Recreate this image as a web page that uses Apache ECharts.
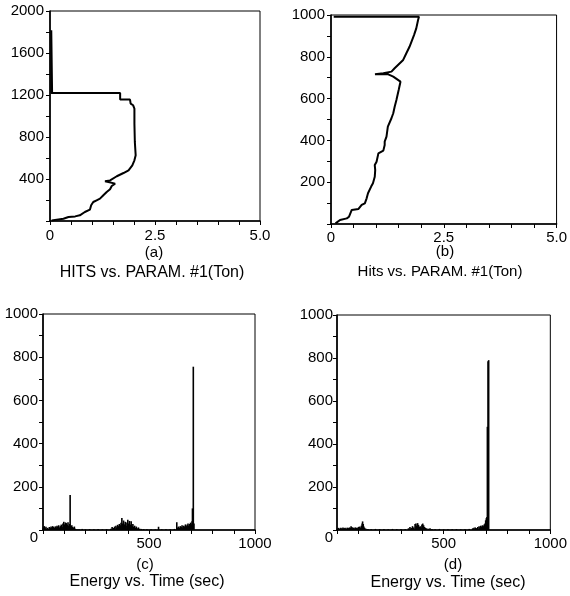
<!DOCTYPE html>
<html><head><meta charset="utf-8">
<script src="https://cdn.jsdelivr.net/npm/echarts@6/dist/echarts.min.js"></script>
<style>html,body{margin:0;padding:0;background:#fff}#c{width:570px;height:596px}</style>
</head><body><div id="c"></div>
<script>
// (a) HITS vs PARAM #1 (Ton): [param, hits]
const hitsA = [[0.04,5],[0.16,13],[0.32,22],[0.44,38],[0.6,44],[0.71,54],[0.83,86],[0.95,108],[0.98,150],[1.03,181],[1.11,197],[1.19,213],[1.27,245],[1.35,276],[1.43,302],[1.47,333],[1.55,356],[1.39,371],[1.31,378],[1.43,387],[1.47,403],[1.59,426],[1.75,457],[1.87,483],[1.96,530],[2.01,578],[2.04,626],[2.02,753],[2.01,927],[2.01,1070],[1.98,1102],[1.92,1118],[1.905,1156],[1.67,1156],[1.67,1219],[0.03,1219],[0.03,1816],[0.05,1816],[0.05,1219]];
// (b) Hits vs PARAM #1 (Ton): [param, hits]
const hitsB = [[0.1,3],[0.2,19],[0.35,27],[0.4,35],[0.46,67],[0.61,72],[0.68,91],[0.75,99],[0.79,123],[0.82,147],[0.89,179],[0.93,195],[0.97,226],[0.98,258],[0.97,282],[0.95,290],[1.01,298],[1.05,338],[1.08,346],[1.16,351],[1.19,378],[1.19,394],[1.23,418],[1.26,466],[1.30,474],[1.34,506],[1.38,530],[1.41,560],[1.45,593],[1.50,641],[1.54,681],[1.38,705],[1.27,716],[0.975,716],[1.16,721],[1.34,729],[1.41,745],[1.60,785],[1.67,817],[1.74,848],[1.84,904],[1.89,936],[1.93,976],[1.95,992],[0.06,992]];
// (c) Energy vs Time: [sec, energy]
const energyC = [[2,12],[6,18],[10,8],[14,15],[18,6],[22,10],[26,5],[30,14],[34,9],[38,16],[42,12],[46,18],[50,14],[54,10],[58,17],[62,13],[66,20],[70,15],[74,22],[78,12],[82,18],[86,25],[90,14],[94,30],[98,38],[102,26],[106,35],[110,32],[114,24],[118,36],[122,20],[126,28],[128,162],[132,18],[136,22],[140,14],[144,10],[148,16],[152,6],[160,4],[170,3],[185,5],[200,3],[220,4],[240,3],[260,5],[280,3],[300,4],[320,6],[326,14],[332,10],[338,16],[344,20],[348,12],[352,24],[356,18],[360,28],[364,22],[368,34],[372,55],[376,30],[380,44],[384,26],[388,38],[392,20],[396,35],[400,48],[404,30],[408,42],[412,25],[416,40],[420,18],[424,28],[428,14],[432,20],[436,10],[440,16],[444,8],[450,12],[456,6],[464,5],[475,4],[490,3],[510,4],[530,3],[545,15],[560,3],[580,4],[600,3],[620,5],[631,36],[636,12],[640,16],[644,10],[648,18],[652,14],[656,22],[660,12],[664,20],[668,16],[672,26],[676,18],[680,24],[684,30],[688,20],[692,28],[696,34],[700,26],[703,40],[705,100],[709,756],[712,30]];
// (d) Energy vs Time: [sec, energy]
const energyD = [[3,8],[8,10],[13,6],[18,11],[23,8],[28,12],[33,9],[38,10],[43,7],[48,11],[53,9],[58,12],[62,10],[66,18],[70,14],[74,9],[78,11],[82,8],[86,12],[90,10],[95,9],[100,14],[105,16],[110,12],[114,20],[118,30],[120,40],[123,28],[126,16],[130,10],[136,6],[145,5],[160,4],[180,5],[200,4],[220,5],[240,4],[260,5],[280,4],[300,5],[320,4],[335,8],[342,14],[348,10],[354,18],[360,12],[366,28],[370,30],[374,20],[378,32],[382,24],[386,14],[390,18],[394,12],[398,26],[402,30],[406,22],[410,14],[414,10],[420,8],[428,6],[436,8],[445,5],[460,4],[480,5],[500,3],[520,4],[540,3],[560,4],[580,3],[600,4],[620,5],[636,8],[642,10],[648,12],[654,9],[660,14],[666,18],[670,12],[674,20],[678,16],[682,22],[686,18],[690,26],[694,30],[697,45],[700,55],[703,60],[705,480],[708,785],[711,790]];

const panelLetters = ['(a)','(b)','(c)','(d)'];
const panelTitles = ['HITS vs. PARAM. #1(Ton)','Hits vs. PARAM. #1(Ton)','Energy vs. Time (sec)','Energy vs. Time (sec)'];
const paramTicks = [0, 2.5, 5.0];
const timeTicks = [500, 1000];

const FONT = '"Liberation Sans", Arial, sans-serif';
const grids = [
  {left:50, top:11, width:210, height:210},
  {left:331, top:15, width:227, height:209},
  {left:43, top:314, width:212, height:216},
  {left:337, top:315, width:216, height:215}
].map(g => Object.assign({show:true, borderColor:'#000', borderWidth:1, containLabel:false}, g));

function baseAxis(gi, extra){
  return Object.assign({
    gridIndex: gi, type:'value',
    axisLine:{show:true, onZero:false, lineStyle:{color:'#000', width:1.6}},
    axisTick:{show:true, inside:false, length:4, lineStyle:{color:'#000', width:1}},
    splitLine:{show:false},
    axisLabel:{color:'#000', fontSize:15, fontFamily:FONT, margin:6}
  }, extra);
}
function paramLabel(v){
  const r = Math.round(v*10);
  if (r % 25 !== 0) return '';
  return v === 0 ? '0' : (r/10).toFixed(1);
}
const richZero = {z:{padding:[16,0,0,0], fontSize:15, fontFamily:FONT, color:'#000'}};

const xAxes = [
  baseAxis(0,{min:0,max:5,interval:0.5, axisLabel:{color:'#000',fontSize:15,fontFamily:FONT,margin:7,formatter:paramLabel}}),
  baseAxis(1,{min:0,max:5,interval:0.5, axisLabel:{color:'#000',fontSize:15,fontFamily:FONT,margin:6,formatter:paramLabel}}),
  baseAxis(2,{min:0,max:1000,interval:100, axisLabel:{color:'#000',fontSize:15,fontFamily:FONT,margin:6,formatter:v=>timeTicks.includes(v)?String(v):''}}),
  baseAxis(3,{min:0,max:1000,interval:100, axisLabel:{color:'#000',fontSize:15,fontFamily:FONT,margin:6,formatter:v=>timeTicks.includes(v)?String(v):''}})
];
const yAxes = [
  baseAxis(0,{min:0,max:2000,interval:200, axisLabel:{color:'#000',fontSize:15,fontFamily:FONT,margin:6,formatter:v=>(v>0&&v%400===0)?String(v):''}}),
  baseAxis(1,{min:0,max:1000,interval:100, axisLabel:{color:'#000',fontSize:15,fontFamily:FONT,margin:6,formatter:v=>(v>0&&v%200===0)?String(v):''}}),
  baseAxis(2,{min:0,max:1000,interval:100, axisLabel:{color:'#000',fontSize:15,fontFamily:FONT,margin:5,rich:richZero,formatter:v=>v===0?'{z|0}':(v%200===0?String(v):'')}}),
  baseAxis(3,{min:0,max:1000,interval:100, axisLabel:{color:'#000',fontSize:15,fontFamily:FONT,margin:4,rich:richZero,formatter:v=>v===0?'{z|0}':(v%200===0?String(v):'')}})
];

const letterPos = [[154,245],[445,244],[145,557],[453,557]];
const titlePos = [[152,265],[440,264],[147,574],[448,575]];
const titleSizes = [16,15,16,16];
const titles = [];
for (let i=0;i<4;i++){
  titles.push({text:panelLetters[i], left:letterPos[i][0], top:letterPos[i][1], textAlign:'center', padding:0,
    textStyle:{fontSize:15, fontWeight:'normal', color:'#000', fontFamily:FONT}});
  titles.push({text:panelTitles[i], left:titlePos[i][0], top:titlePos[i][1], textAlign:'center', padding:0,
    textStyle:{fontSize:titleSizes[i], fontWeight:'normal', color:'#000', fontFamily:FONT}});
}

const lineStyle = {color:'#000', width:2};
const series = [
  {type:'line', xAxisIndex:0, yAxisIndex:0, data:hitsA, showSymbol:false, symbol:'none', lineStyle, animation:false},
  {type:'line', xAxisIndex:1, yAxisIndex:1, data:hitsB, showSymbol:false, symbol:'none', lineStyle, animation:false},
  {type:'bar', xAxisIndex:2, yAxisIndex:2, data:energyC, barWidth:1.6, itemStyle:{color:'#000'}, animation:false},
  {type:'bar', xAxisIndex:3, yAxisIndex:3, data:energyD, barWidth:1.6, itemStyle:{color:'#000'}, animation:false}
];

const chart = echarts.init(document.getElementById('c'), null, {renderer:'canvas'});
chart.setOption({backgroundColor:'#fff', animation:false, title:titles, grid:grids, xAxis:xAxes, yAxis:yAxes, series});
</script></body></html>
